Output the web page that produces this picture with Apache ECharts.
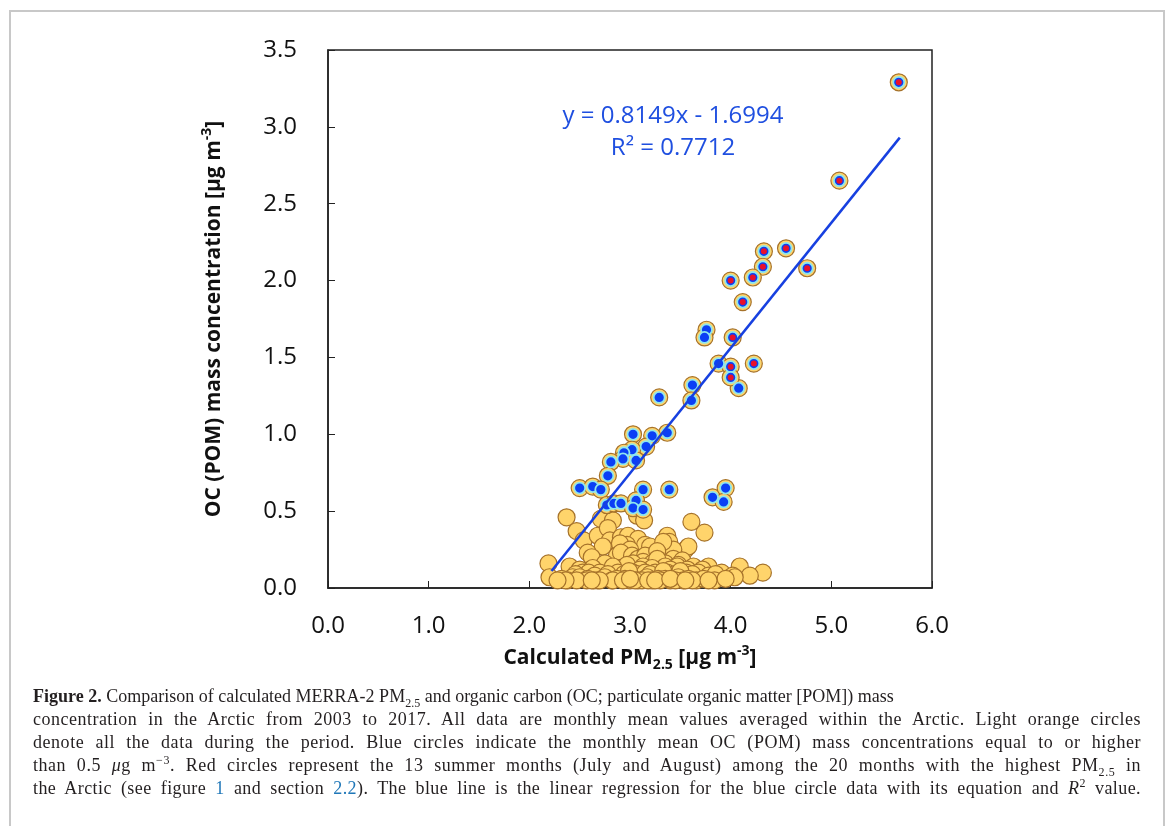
<!DOCTYPE html>
<html>
<head>
<meta charset="utf-8">
<title>Figure 2</title>
<script src="https://cdn.jsdelivr.net/npm/echarts@6/dist/echarts.min.js"></script>
<style>
  body { margin: 0; background: #fff; }
  #wrap { position: relative; width: 1168px; height: 826px; overflow: hidden; }
  #frame {
    position: absolute; left: 9px; top: 10px; width: 1156px; height: 840px;
    border: 2px solid #c8c8c8; box-sizing: border-box;
  }
  #chart { position: absolute; left: 0; top: 0; width: 1168px; height: 826px; }
  #caption {
    position: absolute; left: 33px; top: 685px; width: 1108px;
    font-family: "Liberation Serif", "DejaVu Serif", serif;
    font-size: 18px; line-height: 23px; color: #231f20;
  }
  #caption div { white-space: nowrap; }
  #caption div.js { white-space: normal; text-align: justify; text-align-last: justify; }
  #caption sub, #caption sup { font-size: 12px; line-height: 0; }
  #caption a { color: #1f77b8; text-decoration: none; }
</style>
</head>
<body>
<div id="wrap">
  <div id="frame"></div>
  <div id="chart"></div>
  <div id="caption">
    <div><b>Figure 2.</b> Comparison of calculated MERRA-2 PM<sub>2.5</sub> and organic carbon (OC; particulate organic matter [POM]) mass</div>
    <div class="j"><span>concentration in the Arctic from 2003 to 2017. All data are monthly mean values averaged within the Arctic. Light orange circles</span></div>
    <div class="j"><span>denote all the data during the period. Blue circles indicate the monthly mean OC (POM) mass concentrations equal to or higher</span></div>
    <div class="j"><span>than 0.5 <i>μ</i>g m<sup>−3</sup>. Red circles represent the 13 summer months (July and August) among the 20 months with the highest PM<sub>2.5</sub> in</span></div>
    <div class="j"><span>the Arctic (see figure <a>1</a> and section <a>2.2</a>). The blue line is the linear regression for the blue circle data with its equation and <i>R</i><sup>2</sup> value.</span></div>
  </div>
</div>
<script>
// [PM2.5, OC] monthly means
// red: 13 summer months among the highest PM2.5
var redPts = [
  [5.67, 3.29], [5.08, 2.65], [4.33, 2.19], [4.55, 2.21], [4.32, 2.09],
  [4.22, 2.02], [4.76, 2.08], [4.00, 2.00], [4.12, 1.86], [4.02, 1.63],
  [4.00, 1.44], [4.23, 1.46], [4.00, 1.37]
];
// blue: OC >= 0.5 (not red)
var bluePts = [
  [3.76, 1.68], [3.74, 1.63], [3.88, 1.46], [4.08, 1.30], [3.62, 1.32],
  [3.61, 1.22], [3.29, 1.24], [3.37, 1.01], [3.22, 0.99], [3.03, 1.00],
  [3.16, 0.92], [3.02, 0.90], [2.94, 0.88], [2.93, 0.84], [3.06, 0.83],
  [2.81, 0.82], [2.78, 0.73], [2.50, 0.65], [2.63, 0.66], [2.71, 0.64],
  [3.13, 0.64], [3.39, 0.64], [3.82, 0.59], [3.95, 0.65], [3.93, 0.56],
  [2.77, 0.54], [2.84, 0.55], [2.91, 0.55], [3.06, 0.57], [3.03, 0.52],
  [3.13, 0.51]
];
// light orange: the remaining months
var orangePts = [
  [2.37, 0.46], [2.47, 0.37], [2.54, 0.31], [2.68, 0.34], [2.71, 0.45],
  [2.83, 0.44], [2.78, 0.39], [2.80, 0.31], [2.91, 0.33], [2.98, 0.34],
  [3.07, 0.47], [3.14, 0.44], [3.61, 0.43], [3.74, 0.36], [3.37, 0.34],
  [3.39, 0.30], [3.08, 0.32], [3.15, 0.28], [2.97, 0.28], [2.90, 0.29],
  [3.20, 0.27], [3.55, 0.25], [3.58, 0.27], [3.43, 0.25], [3.33, 0.30],
  [3.00, 0.25], [2.73, 0.27], [2.58, 0.23], [2.62, 0.20], [2.87, 0.21],
  [2.91, 0.23], [3.02, 0.21], [3.08, 0.19], [3.15, 0.21], [3.27, 0.24],
  [3.43, 0.19], [3.52, 0.18], [3.13, 0.17], [3.22, 0.16], [3.35, 0.16],
  [3.27, 0.19], [3.48, 0.15],
  [2.19, 0.16], [2.40, 0.14], [2.75, 0.16], [2.90, 0.13], [3.03, 0.16],
  [3.13, 0.14], [3.35, 0.14], [3.47, 0.14], [3.63, 0.14], [3.78, 0.14],
  [4.09, 0.14], [2.63, 0.13], [2.50, 0.12], [3.22, 0.13], [2.97, 0.15],
  [3.57, 0.12], [3.72, 0.12], [2.83, 0.14], [3.10, 0.12], [3.40, 0.12],
  [2.53, 0.10], [2.59, 0.10], [2.70, 0.10], [2.88, 0.10], [3.03, 0.10],
  [3.25, 0.10], [3.37, 0.10], [3.56, 0.10], [3.68, 0.10], [3.91, 0.10],
  [4.32, 0.10], [3.62, 0.09], [3.78, 0.08], [4.02, 0.08], [4.19, 0.08],
  [2.94, 0.09], [3.07, 0.09], [3.30, 0.08], [2.78, 0.09], [3.15, 0.10],
  [3.45, 0.09], [2.65, 0.08], [3.85, 0.09], [3.50, 0.11], [2.46, 0.09],
  [3.20, 0.09], [2.99, 0.11], [3.33, 0.11],
  [2.20, 0.07], [2.32, 0.06], [2.43, 0.07], [2.50, 0.07], [2.64, 0.05],
  [2.75, 0.07], [3.17, 0.07], [3.48, 0.07], [4.04, 0.07], [2.95, 0.06],
  [3.08, 0.05], [3.22, 0.05], [3.40, 0.05], [2.68, 0.05], [2.87, 0.06],
  [3.00, 0.05], [3.12, 0.05], [3.28, 0.06], [3.58, 0.06], [3.66, 0.05],
  [3.73, 0.06], [3.84, 0.05], [3.95, 0.06], [2.58, 0.06], [2.38, 0.05],
  [3.35, 0.06], [2.82, 0.05], [3.53, 0.05],
  [2.83, 0.05], [2.57, 0.05], [2.47, 0.05], [2.36, 0.05], [2.70, 0.05],
  [2.93, 0.05], [3.05, 0.05], [3.18, 0.05], [3.30, 0.05], [3.45, 0.05],
  [3.62, 0.05], [3.78, 0.05], [2.28, 0.05], [2.62, 0.05], [3.00, 0.06],
  [3.25, 0.05], [3.40, 0.06], [3.55, 0.05]
];
// trendline ends as drawn (y = 0.8149x - 1.6994)
var trendLine = [[2.22, 0.11], [5.68, 2.93]];
var eqText = 'y = 0.8149x - 1.6994';
var r2Text = 'R² = 0.7712';

var allPts = orangePts.concat(bluePts, redPts);
var bluePlusRed = bluePts.concat(redPts);

var tickFont = '"Open Sans", "DejaVu Sans", sans-serif';
var axisColor = '#222';

function nameRich() {
  return {
    b: { fontSize: 21, fontWeight: 'bold', fontFamily: tickFont, color: '#111', lineHeight: 28 },
    sub: { fontSize: 14, fontWeight: 'bold', fontFamily: tickFont, color: '#111', lineHeight: 16, verticalAlign: 'bottom' },
    sup: { fontSize: 14, fontWeight: 'bold', fontFamily: tickFont, color: '#111', lineHeight: 16, verticalAlign: 'top' }
  };
}

var myChart = echarts.init(document.getElementById('chart'));
myChart.setOption({
  animation: false,
  grid: {
    left: 328, right: 236, top: 50, bottom: 238,
    outerBoundsMode: 'none',
    show: true, borderColor: axisColor, borderWidth: 1.5
  },
  xAxis: {
    type: 'value', min: 0, max: 6, interval: 1,
    axisLine: { show: true, lineStyle: { color: axisColor, width: 1.5 } },
    axisTick: { show: true, inside: true, length: 7, lineStyle: { color: axisColor } },
    axisLabel: {
      fontSize: 24, fontFamily: tickFont, color: '#111', margin: 26,
      formatter: function (v) { return v.toFixed(1); }
    },
    splitLine: { show: false },
    name: '{b|Calculated PM}{sub|2.5}{b| [μg m}{sup|-3}{b|]}',
    nameLocation: 'middle', nameGap: 56,
    nameTextStyle: { rich: nameRich() }
  },
  yAxis: {
    type: 'value', min: 0, max: 3.5, interval: 0.5,
    axisLine: { show: true, lineStyle: { color: axisColor, width: 1.5 } },
    axisTick: { show: true, inside: true, length: 7, lineStyle: { color: axisColor } },
    axisLabel: {
      fontSize: 24, fontFamily: tickFont, color: '#111', margin: 31,
      formatter: function (v) { return v.toFixed(1); }
    },
    splitLine: { show: false },
    name: '{b|OC (POM) mass concentration [μg m}{sup|-3}{b|]}',
    nameLocation: 'middle', nameGap: 100,
    nameTextStyle: { rich: nameRich() }
  },
  graphic: [
    {
      type: 'text', x: 673, y: 116,
      style: {
        text: eqText, fill: '#1f4fe0', font: '24px "Open Sans", sans-serif',
        textAlign: 'center', textVerticalAlign: 'middle'
      }
    },
    {
      type: 'text', x: 673, y: 148,
      style: {
        text: r2Text, fill: '#1f4fe0', font: '24px "Open Sans", sans-serif',
        textAlign: 'center', textVerticalAlign: 'middle'
      }
    }
  ],
  series: [
    {
      name: 'all', type: 'scatter', data: allPts, symbolSize: 17,
      itemStyle: { color: '#ffd46b', borderColor: '#a6722a', borderWidth: 1.2, opacity: 1 },
      silent: true
    },
    {
      name: 'oc>=0.5', type: 'scatter', data: bluePlusRed, symbolSize: 11,
      itemStyle: { color: '#0b3ff5', borderColor: '#8ee6ee', borderWidth: 1.8, opacity: 1 },
      silent: true
    },
    {
      name: 'summer', type: 'scatter', data: redPts, symbolSize: 6,
      itemStyle: { color: '#e8102c', opacity: 1 },
      silent: true
    },
    {
      name: 'fit', type: 'line', data: trendLine, showSymbol: false,
      lineStyle: { color: '#1740e0', width: 2.5 }, silent: true
    }
  ]
});

// justified caption lines: part of the slack goes to letters, the rest to spaces
var capW = 1108;
document.querySelectorAll('#caption div.j').forEach(function (d) {
  var s = d.firstElementChild;
  var n = s.textContent.length;
  var w = s.getBoundingClientRect().width;
  s.style.letterSpacing = (0.35 * (capW - w) / n) + 'px';
  d.className = 'j js';
});
</script>
</body>
</html>
